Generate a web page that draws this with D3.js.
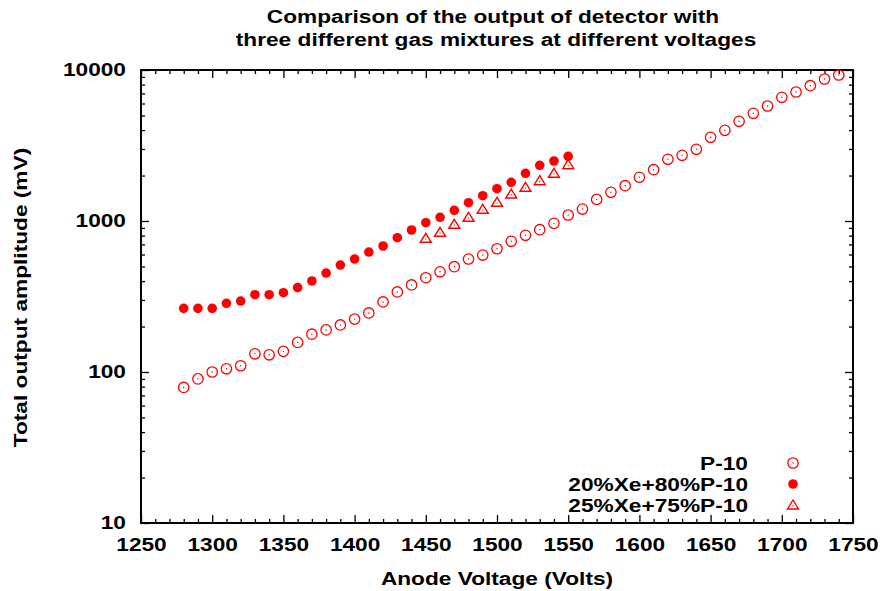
<!DOCTYPE html>
<html><head><meta charset="utf-8">
<script src="https://cdn.jsdelivr.net/npm/d3@7/dist/d3.min.js"></script>
<style>
body{margin:0;background:#fff}
text{font-family:"Liberation Sans",Arial,Helvetica,sans-serif;font-weight:bold;fill:#000}
</style>
</head><body>
<svg id="chart" width="883" height="591"></svg>
<script>
// ---- data ----
const titleLines = ["Comparison of the output of detector with", "three different gas mixtures at different voltages"];
const xLabel = "Anode Voltage (Volts)";
const yLabel = "Total output amplitude (mV)";
const seriesNames = ["P-10", "20%Xe+80%P-10", "25%Xe+75%P-10"];

const voltsP10 = [1280,1290,1300,1310,1320,1330,1340,1350,1360,1370,1380,1390,1400,1410,1420,1430,1440,1450,1460,1470,1480,1490,1500,1510,1520,1530,1540,1550,1560,1570,1580,1590,1600,1610,1620,1630,1640,1650,1660,1670,1680,1690,1700,1710,1720,1730,1740];
const ampP10 = [79,90,100,105,110,132,130,137,157,178,190,205,224,246,291,339,377,421,461,498,560,595,655,734,804,876,965,1096,1200,1390,1549,1713,1948,2186,2563,2723,2984,3584,3987,4575,5169,5776,6595,7151,7870,8718,9267];

const voltsXe20 = [1280,1290,1300,1310,1320,1330,1340,1350,1360,1370,1380,1390,1400,1410,1420,1430,1440,1450,1460,1470,1480,1490,1500,1510,1520,1530,1540,1550];
const ampXe20 = [264,264,264,285,295,325,325,335,362,401,452,511,560,623,683,775,872,974,1058,1177,1322,1471,1637,1804,2070,2338,2497,2682];

const voltsXe25 = [1450,1460,1470,1480,1490,1500,1510,1520,1530,1540,1550];
const ampXe25 = [768,842,951,1058,1195,1330,1509,1672,1849,2070,2360];

const xTicks = [1250,1300,1350,1400,1450,1500,1550,1600,1650,1700,1750];
const yTicks = [10,100,1000,10000];

// ---- layout ----
const svg = d3.select("#chart");
const L = 141, R = 853, T = 70, B = 523;
const color = "#ff0000";
const FS = "18.6px";
const SX = 1.22; // horizontal stretch of the reference font

const x = d3.scaleLinear().domain([1250, 1750]).range([L, R]);
const y = d3.scaleLog().domain([10, 10000]).range([B, T]);

// minor ticks
const xMinor = d3.range(1250, 1751, 10).filter(v => v % 50 !== 0);
const yMinor = [];
[10,100,1000].forEach(d => { for (let k = 2; k <= 9; k++) yMinor.push(d*k); });

const g = svg.append("g");

function styleAxis(sel){
  sel.select(".domain").remove();
  sel.selectAll(".tick line").attr("stroke", "#000").attr("stroke-width", 1.3);
  sel.selectAll(".tick text").style("font-size", FS).style("font-weight", "bold")
    .style("font-family", '"Liberation Sans",Arial,sans-serif').style("fill", "#000")
    .attr("transform", `scale(${SX},1)`);
}

// bottom major with labels
g.append("g").attr("transform", `translate(0,${B})`)
  .call(d3.axisBottom(x).tickValues(xTicks).tickFormat(d3.format("d")).tickSize(-8).tickPadding(15))
  .call(styleAxis);
g.append("g").attr("transform", `translate(0,${B})`)
  .call(d3.axisBottom(x).tickValues(xMinor).tickFormat("").tickSize(-4))
  .call(styleAxis);
// top mirror
g.append("g").attr("transform", `translate(0,${T})`)
  .call(d3.axisTop(x).tickValues(xTicks).tickFormat("").tickSize(-8))
  .call(styleAxis);
g.append("g").attr("transform", `translate(0,${T})`)
  .call(d3.axisTop(x).tickValues(xMinor).tickFormat("").tickSize(-4))
  .call(styleAxis);
// left
g.append("g").attr("transform", `translate(${L},0)`)
  .call(d3.axisLeft(y).tickValues(yTicks).tickFormat(d3.format("d")).tickSize(-8).tickPadding(12.3))
  .call(styleAxis);
g.append("g").attr("transform", `translate(${L},0)`)
  .call(d3.axisLeft(y).tickValues(yMinor).tickFormat("").tickSize(-4))
  .call(styleAxis);
// right
g.append("g").attr("transform", `translate(${R},0)`)
  .call(d3.axisRight(y).tickValues(yTicks).tickFormat("").tickSize(-8))
  .call(styleAxis);
g.append("g").attr("transform", `translate(${R},0)`)
  .call(d3.axisRight(y).tickValues(yMinor).tickFormat("").tickSize(-4))
  .call(styleAxis);

// border
g.append("rect").attr("x", L).attr("y", T).attr("width", R-L).attr("height", B-T)
  .attr("fill", "none").attr("stroke", "#000").attr("stroke-width", 2);

// ---- markers ----
function openCircle(sel){
  sel.append("circle").attr("r", 5.2).attr("fill", "none").attr("stroke", color).attr("stroke-width", 1.3);
  sel.append("circle").attr("r", 0.7).attr("fill", color);
}
function filledCircle(sel){
  sel.append("circle").attr("r", 4.8).attr("fill", color);
}
function triangle(sel){
  sel.append("path").attr("d", "M0,-5L5.5,4L-5.5,4Z").attr("fill", "none").attr("stroke", color).attr("stroke-width", 1.4);
  sel.append("circle").attr("r", 0.7).attr("cy", 0.8).attr("fill", color);
}

const p10 = voltsP10.map((v,i) => ({v, a: ampP10[i]}));
const xe20 = voltsXe20.map((v,i) => ({v, a: ampXe20[i]}));
const xe25 = voltsXe25.map((v,i) => ({v, a: ampXe25[i]}));

const plot = svg.append("g");
plot.selectAll("g.p10").data(p10).join("g").attr("class","p10")
  .attr("transform", d => `translate(${x(d.v)},${y(d.a)})`).call(openCircle);
plot.selectAll("g.xe20").data(xe20).join("g").attr("class","xe20")
  .attr("transform", d => `translate(${x(d.v)},${y(d.a)})`).call(filledCircle);
plot.selectAll("g.xe25").data(xe25).join("g").attr("class","xe25")
  .attr("transform", d => `translate(${x(d.v)},${y(d.a)})`).call(triangle);

// ---- legend ----
const legY = [463, 484, 505];
const markers = [openCircle, filledCircle, triangle];
seriesNames.forEach((name, i) => {
  svg.append("text").attr("transform", `translate(748,${legY[i]}) scale(${SX},1)`).attr("dy", "0.35em")
    .attr("text-anchor", "end").style("font-size", FS).text(name);
  svg.append("g").attr("transform", `translate(793,${legY[i]})`).call(markers[i]);
});

// ---- titles ----
svg.append("text").attr("transform", `translate(493,22.7) scale(${SX},1)`).attr("text-anchor", "middle")
  .style("font-size", FS).text(titleLines[0]);
svg.append("text").attr("transform", `translate(496,46) scale(${SX},1)`).attr("text-anchor", "middle")
  .style("font-size", FS).text(titleLines[1]);
svg.append("text").attr("transform", `translate(497,584.5) scale(${SX},1)`).attr("text-anchor", "middle")
  .style("font-size", FS).text(xLabel);
svg.append("text").attr("transform", `translate(27,297.5) rotate(-90) scale(${SX},1)`).attr("text-anchor", "middle")
  .style("font-size", FS).text(yLabel);
</script>
</body></html>
